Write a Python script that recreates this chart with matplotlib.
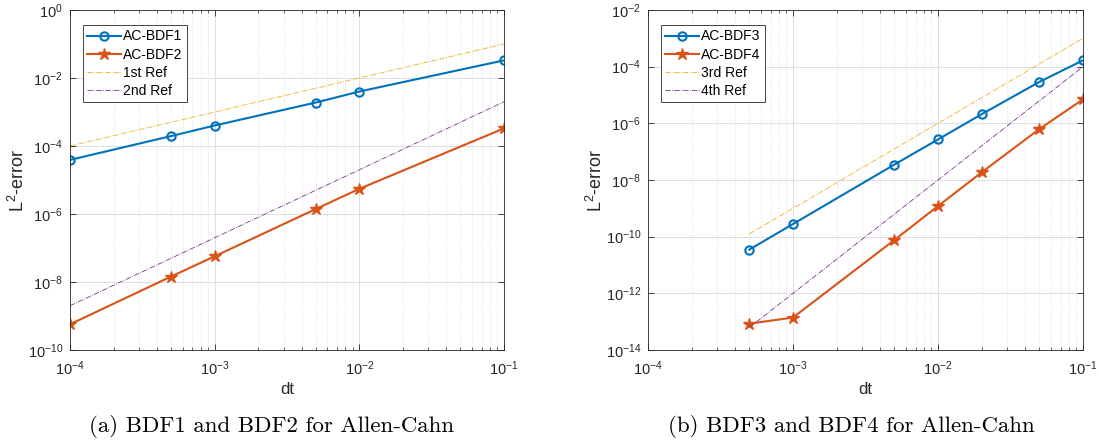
import numpy as np
import matplotlib
matplotlib.use("Agg")
import matplotlib.pyplot as plt
from matplotlib.ticker import LogLocator, NullLocator, FixedLocator

plt.rcParams['font.family'] = ['Liberation Sans', 'DejaVu Sans']
plt.rcParams['mathtext.fontset'] = 'custom'
plt.rcParams['mathtext.rm'] = 'Liberation Sans'
plt.rcParams['mathtext.it'] = 'Liberation Sans:italic'

# MATLAB default colours
c_blue = '#0072BD'
c_orange = '#D95319'
c_yellow = '#EDB120'
c_purple = '#7E2F8E'

# ---- panel (a) data ----
dt_a = [1e-4, 5e-4, 1e-3, 5e-3, 1e-2, 1e-1]
bdf1 = [3.9e-5, 1.96e-4, 4.0e-4, 1.9e-3, 4.0e-3, 3.3e-2]
bdf2 = [5.7e-10, 1.45e-8, 5.7e-8, 1.4e-6, 5.5e-6, 3.3e-4]
ref1 = [1e-4, 5e-4, 1e-3, 5e-3, 1e-2, 1e-1]
ref2 = [2e-9, 5e-8, 2e-7, 5e-6, 2e-5, 2e-3]

# ---- panel (b) data ----
dt_b = [5e-4, 1e-3, 5e-3, 1e-2, 2e-2, 5e-2, 1e-1]
bdf3 = [3.5e-11, 2.8e-10, 3.5e-8, 2.7e-7, 2.1e-6, 2.9e-5, 1.67e-4]
bdf4 = [8.5e-14, 1.4e-13, 7.6e-11, 1.2e-9, 1.86e-8, 6.3e-7, 7.0e-6]
ref3 = [1.25e-10, 1e-9, 1.25e-7, 1e-6, 8e-6, 1.25e-4, 1e-3]
ref4 = [6.25e-14, 1e-12, 6.25e-10, 1e-8, 1.6e-7, 6.25e-6, 1e-4]

fig = plt.figure(figsize=(11, 4.41), dpi=100)
W, H = 1100, 441
ax1 = fig.add_axes([70 / W, 1 - 350 / H, 434 / W, 340 / H])
ax2 = fig.add_axes([648 / W, 1 - 350 / H, 435 / W, 340 / H])


def style(ax, ylo, yhi):
    ax.set_xscale('log')
    ax.set_yscale('log')
    ax.set_xlim(1e-4, 1e-1)
    ax.set_ylim(ylo, yhi)
    ax.xaxis.set_major_locator(FixedLocator([1e-4, 1e-3, 1e-2, 1e-1]))
    ax.xaxis.set_minor_locator(LogLocator(base=10, subs=np.arange(2, 10)))
    ax.yaxis.set_major_locator(LogLocator(base=100))
    ax.yaxis.set_minor_locator(NullLocator())
    ax.grid(True, which='major', color='#d9d9d9', linewidth=0.6)
    ax.grid(True, which='minor', axis='x', color='#d9d9d9', linestyle=':', linewidth=0.6)
    ax.set_axisbelow(True)
    ax.tick_params(which='both', direction='in', top=True, right=True,
                   labelsize=10.5, colors='#262626', labelcolor='#262626')
    ax.tick_params(which='major', length=4, width=0.6)
    ax.tick_params(which='minor', length=2, width=0.5)
    ax.tick_params(axis='x', which='major', pad=7)
    ax.tick_params(axis='y', which='major', pad=5)
    for s in ax.spines.values():
        s.set_color('#262626')
        s.set_linewidth(0.6)
    ax.set_xlabel('dt', fontsize=12, color='#262626', labelpad=3)
    ax.set_ylabel('L$^2$-error', fontsize=13, color='#262626', labelpad=0)


ax1.plot(dt_a, bdf1, '-o', color=c_blue, lw=1.5, ms=6, mfc='none', mew=1.5, label='AC-BDF1')
ax1.plot(dt_a, bdf2, '-*', color=c_orange, lw=1.5, ms=9, label='AC-BDF2')
ax1.plot(dt_a, ref1, '-.', color=c_yellow, lw=0.6, label='1st Ref')
ax1.plot(dt_a, ref2, '-.', color=c_purple, lw=0.6, label='2nd Ref')
style(ax1, 1e-10, 1e0)

ax2.plot(dt_b, bdf3, '-o', color=c_blue, lw=1.5, ms=6, mfc='none', mew=1.5, label='AC-BDF3')
ax2.plot(dt_b, bdf4, '-*', color=c_orange, lw=1.5, ms=9, label='AC-BDF4')
ax2.plot(dt_b, ref3, '-.', color=c_yellow, lw=0.6, label='3rd Ref')
ax2.plot(dt_b, ref4, '-.', color=c_purple, lw=0.6, label='4th Ref')
style(ax2, 1e-14, 1e-2)

for ax in (ax1, ax2):
    leg = ax.legend(loc='upper left', bbox_to_anchor=(0.03, 0.955), fontsize=10,
                    frameon=True, fancybox=False, edgecolor='#262626',
                    framealpha=1, borderpad=0.3, labelspacing=0.3,
                    handlelength=2.4, handletextpad=0.2, borderaxespad=0)
    leg.get_frame().set_linewidth(0.6)

fig.text(272 / W, 1 - 426 / H, '(a) BDF1 and BDF2 for Allen-Cahn', family='cmr10',
         fontsize=16.5, ha='center', va='center')
fig.text(851 / W, 1 - 426 / H, '(b) BDF3 and BDF4 for Allen-Cahn', family='cmr10',
         fontsize=16.5, ha='center', va='center')

fig.savefig('out.png', dpi=100)
